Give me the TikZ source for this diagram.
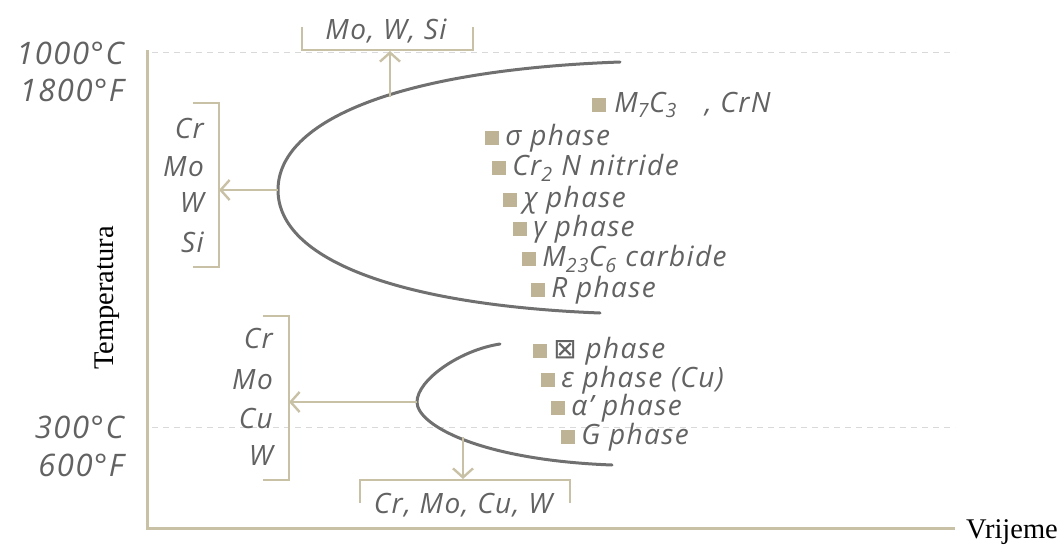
\documentclass[tikz,border=0pt]{standalone}
\usepackage{fontspec}
\usepackage{tikz}
\usetikzlibrary{positioning,arrows.meta}
\setmainfont{Liberation Serif}
\newfontfamily\grfont{Open Sans}[LetterSpace=5]
\newfontfamily\symfont{DejaVu Sans}
\definecolor{axistan}{HTML}{C9C1A6}
\definecolor{marktan}{HTML}{BFB395}
\definecolor{txtgray}{HTML}{626262}
\definecolor{curvegray}{HTML}{707070}

\begin{document}
\begin{tikzpicture}[x=1pt, y=-1pt]
    \tikzstyle{axis} = [draw=axistan, line width=3pt]
    \tikzstyle{brk} = [draw=axistan, line width=2.6pt]
    \tikzstyle{arr} = [draw=axistan, line width=2.4pt, -{Straight Barb[length=9pt, width=20pt]}]
    \tikzstyle{curve} = [draw=curvegray, line width=3pt, line cap=round]
    \tikzstyle{guide} = [draw=black!15, line width=1pt, dash pattern=on 6pt off 5pt]
    \tikzstyle{marker} = [rectangle, fill=marktan, inner sep=0pt, minimum size=14pt]
    \tikzstyle{lbl} = [text=txtgray, font=\grfont\itshape\fontsize{28}{32}\selectfont, inner sep=0pt]
    \tikzstyle{temp} = [text=txtgray, font=\grfont\itshape\fontsize{31}{36}\selectfont, inner sep=0pt, anchor=east]
    \useasboundingbox (0,0) rectangle (1064,546);
    % axes and guide lines
    \coordinate (orig) at (147,528);
    \coordinate (ytop) at (147,50);
    \coordinate (xend) at (955,528);
    \draw[guide] (152,52) -- (955,52);
    \draw[guide] (152,427) -- (955,427);
    \draw[axis] (ytop) -- (orig) -- (xend);
    \node[rotate=90, font=\fontsize{28.5}{32}\selectfont] (ylab) at (107,298) {Temperatura};
    \node[anchor=west, font=\fontsize{28.5}{32}\selectfont, inner sep=0pt] (xlab) at (966,532) {Vrijeme};
    \node[temp] (t1) at (124,53) {1000°C};
    \node[temp] (t2) at (124,90) {1800°F};
    \node[temp] (t3) at (124,427) {300°C};
    \node[temp] (t4) at (124,465) {600°F};
    % upper C-curve
    \coordinate (utop) at (620,62);
    \coordinate (uvtx) at (278,190);
    \coordinate (ubot) at (600,313);
    \draw[curve] (utop) .. controls (400,70) and (278,120) .. (uvtx)
        .. controls (278,260) and (400,305) .. (ubot);
    \coordinate (uarr) at (390,97);
    \coordinate (ubrk) at (390,51);
    \coordinate (lbrk) at (219,190);
    \draw[brk] (302,27) -- (302,50) -- (473,50) -- (473,27);
    \node[lbl] (uel) at (386,31) {Mo, W, Si};
    \draw[brk] (193,103) -- (219,103) -- (219,267) -- (193,267);
    \foreach \el/\yy [count=\i] in {Cr/128, Mo/167, W/203, Si/242}
        \node[lbl, anchor=east] (ue\i) at (204,\yy) {\el};
    \draw[arr] (uarr) -- (ubrk);
    \draw[arr] (uvtx) -- (lbrk);
    % lower C-curve
    \coordinate (ltop) at (500,344);
    \coordinate (lvtx) at (417,402);
    \coordinate (lbot) at (612,465);
    \draw[curve] (ltop) .. controls (460,350) and (417,380) .. (lvtx)
        .. controls (417,425) and (480,460) .. (lbot);
    \coordinate (larr) at (463,437);
    \coordinate (dbrk) at (463,479);
    \coordinate (sbrk) at (289,402);
    \draw[brk] (360,503) -- (360,480) -- (570,480) -- (570,503);
    \node[lbl] (del) at (463,505) {Cr, Mo, Cu, W};
    \draw[brk] (263,316) -- (289,316) -- (289,480) -- (263,480);
    \foreach \el/\yy [count=\i] in {Cr/338, Mo/380, Cu/418, W/455}
        \node[lbl, anchor=east] (le\i) at (273,\yy) {\el};
    \draw[arr] (lvtx) -- (sbrk);
    \draw[arr] (larr) -- (dbrk);
    % phases
    \node[marker] (mk0) at (599,105) {};
    \node[lbl, right=8pt of mk0] (ph0) {M\textsubscript{7}C\textsubscript{3}\quad, CrN};
    \foreach \px/\py/\txt [count=\i] in {492/138/{σ phase}, 499/168/{Cr\textsubscript{2} N nitride},
        510/200/{χ phase}, 520/229/{γ phase}, 529/259/{M\textsubscript{23}C\textsubscript{6} carbide},
        538/290/{R phase}, 540/351/{{\symfont ⊠} phase}, 548/380/{ε phase (Cu)},
        558/408/{α’ phase}, 568/437/{G phase}} {
        \node[marker] (mk\i) at (\px,\py) {};
        \node[lbl, right=6pt of mk\i] (ph\i) {\txt};
    }
\end{tikzpicture}
\end{document}
